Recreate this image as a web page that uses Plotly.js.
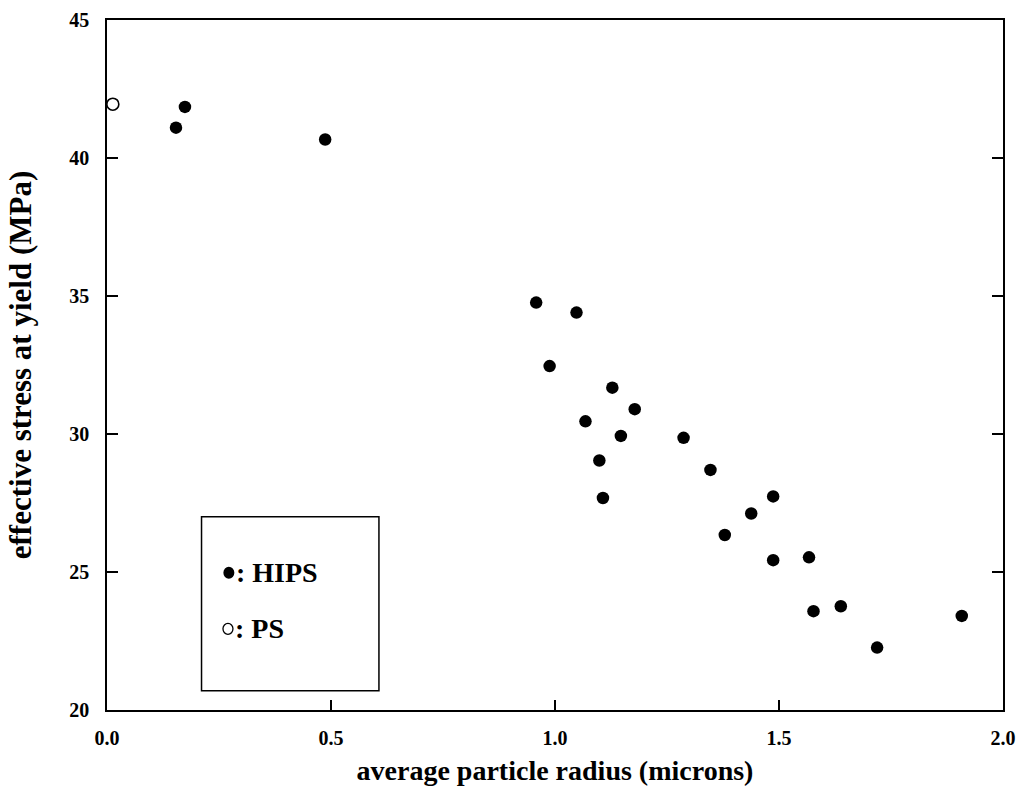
<!DOCTYPE html>
<html>
<head>
<meta charset="utf-8">
<script src="https://cdn.plot.ly/plotly-3.0.1.min.js"></script>
<style>html,body{margin:0;padding:0;background:#fff;}#chart{width:1017px;height:791px;}</style>
</head>
<body>
<div id="chart"></div>
<script>
// HIPS: average particle radius (microns) vs effective stress at yield (MPa)
const hipsRadius = [0.154, 0.174, 0.487, 0.958, 1.048, 0.988, 1.128, 1.068, 1.178, 1.147, 1.287, 1.099, 1.347, 1.107, 1.487, 1.438, 1.379, 1.487, 1.567, 1.577, 1.638, 1.719, 1.908];
const hipsStress = [41.10, 41.85, 40.67, 34.76, 34.40, 32.46, 31.68, 30.46, 30.90, 29.93, 29.86, 29.04, 28.70, 27.68, 27.74, 27.12, 26.34, 25.43, 25.53, 23.58, 23.76, 22.26, 23.41];
// PS (pure polystyrene)
const psRadius = [0.013];
const psStress = [41.95];

const xTickVals = [0.0, 0.5, 1.0, 1.5, 2.0];
const xTickText = ["0.0", "0.5", "1.0", "1.5", "2.0"];
const yTickVals = [20, 25, 30, 35, 40, 45];
const yTickText = ["20", "25", "30", "35", "40", "45"];

const legendLabels = [": HIPS", ": PS"];

const FONT = "Liberation Serif, Times New Roman, serif";

const traces = [
  {
    x: hipsRadius, y: hipsStress, type: "scatter", mode: "markers", name: "HIPS",
    marker: {symbol: "circle", size: 12.5, color: "#000", line: {width: 0}},
    cliponaxis: false
  },
  {
    x: psRadius, y: psStress, type: "scatter", mode: "markers", name: "PS",
    marker: {symbol: "circle", size: 12, color: "#fff", line: {width: 1.6, color: "#000"}},
    cliponaxis: false
  }
];

const layout = {
  width: 1017, height: 791,
  margin: {l: 107, r: 14, t: 20, b: 81, pad: 0},
  paper_bgcolor: "#fff", plot_bgcolor: "#fff",
  showlegend: false,
  font: {family: FONT, color: "#000"},
  xaxis: {
    range: [0, 2.0], autorange: false,
    tickmode: "array", tickvals: xTickVals, ticktext: xTickText,
    ticks: "inside", ticklen: 10, tickwidth: 1.5, tickcolor: "#000",
    showline: true, linewidth: 2, linecolor: "#000", mirror: true,
    showgrid: false, zeroline: false,
    tickfont: {family: FONT, size: 20, weight: "bold", color: "#000"},
    ticklabelstandoff: 9,
    automargin: false,
    title: {text: "average particle radius (microns)", font: {family: FONT, size: 28, weight: "bold", color: "#000"}, standoff: 12}
  },
  yaxis: {
    range: [20, 45], autorange: false,
    tickmode: "array", tickvals: yTickVals, ticktext: yTickText,
    ticks: "inside", ticklen: 11, tickwidth: 1.5, tickcolor: "#000",
    showline: true, linewidth: 1.8, linecolor: "#000", mirror: "ticks",
    showgrid: false, zeroline: false,
    tickfont: {family: FONT, size: 20, weight: "bold", color: "#000"},
    ticklabelstandoff: 12,
    automargin: false,
    title: {text: "effective stress at yield (MPa)", font: {family: FONT, size: 31, weight: "bold", color: "#000"}, standoff: 28}
  },
  shapes: [
    {type: "rect", xref: "x", yref: "y", x0: 0.211, x1: 0.607, y0: 20.7, y1: 27.0,
     line: {color: "#000", width: 1.5}, fillcolor: "rgba(0,0,0,0)", layer: "above"},
    {type: "circle", xref: "x", yref: "y", xsizemode: "pixel", ysizemode: "pixel",
     xanchor: 0.272, yanchor: 24.97, x0: -5.5, x1: 5.5, y0: -6, y1: 6,
     fillcolor: "#000", line: {color: "#000", width: 0}},
    {type: "circle", xref: "x", yref: "y", xsizemode: "pixel", ysizemode: "pixel",
     xanchor: 0.270, yanchor: 22.94, x0: -5, x1: 5, y0: -5.5, y1: 5.5,
     fillcolor: "#fff", line: {color: "#000", width: 1.3}}
  ],
  annotations: [
    {xref: "x", yref: "y", x: 0.284, y: 24.97, text: legendLabels[0], showarrow: false,
     xanchor: "left", yanchor: "middle", font: {family: FONT, size: 28, weight: "bold", color: "#000"}},
    {xref: "x", yref: "y", x: 0.282, y: 22.94, text: legendLabels[1], showarrow: false,
     xanchor: "left", yanchor: "middle", font: {family: FONT, size: 28, weight: "bold", color: "#000"}}
  ]
};

Plotly.newPlot("chart", traces, layout, {displayModeBar: false, staticPlot: true});
</script>
</body>
</html>
